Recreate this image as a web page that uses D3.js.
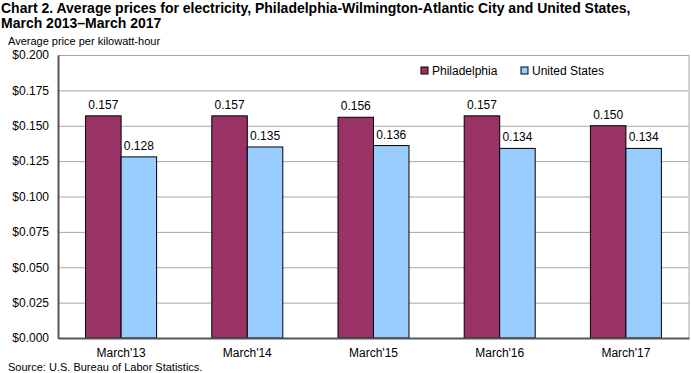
<!DOCTYPE html>
<html>
<head>
<meta charset="utf-8">
<script src="https://cdn.jsdelivr.net/npm/d3@7"></script>
<style>
  body { margin: 0; background: #fff; }
  svg text { font-family: "Liberation Sans", Arial, sans-serif; fill: #000; }
</style>
</head>
<body>
<div id="chart"></div>
<script>
const categories = ["March'13", "March'14", "March'15", "March'16", "March'17"];
const seriesNames = ['Philadelphia', 'United States'];
const philadelphia = [0.157, 0.157, 0.156, 0.157, 0.150];
const unitedStates = [0.128, 0.135, 0.136, 0.134, 0.134];
const yTicks = [0, 0.025, 0.05, 0.075, 0.1, 0.125, 0.15, 0.175, 0.2];
const colors = ['#993366', '#99ccff'];

const width = 691;
const height = 373;
const margin = { top: 55, right: 2, bottom: 35, left: 58 };
const plotW = width - margin.left - margin.right;
const plotH = height - margin.top - margin.bottom;

const svg = d3.select('#chart').append('svg')
  .attr('width', width)
  .attr('height', height);

// title
svg.append('text').attr('x', 1).attr('y', 13)
  .attr('font-size', 14).attr('font-weight', 'bold')
  .text('Chart 2. Average prices for electricity, Philadelphia-Wilmington-Atlantic City and United States,');
svg.append('text').attr('x', 1).attr('y', 28)
  .attr('font-size', 14).attr('font-weight', 'bold')
  .text('March 2013\u2013March 2017');
svg.append('text').attr('x', 8).attr('y', 45)
  .attr('font-size', 11)
  .text('Average price per kilowatt-hour');

const g = svg.append('g')
  .attr('transform', 'translate(' + margin.left + ',' + margin.top + ')');

const x0 = d3.scaleBand().domain(categories).range([0, plotW]);
const x1 = d3.scaleBand().domain(seriesNames).range([0, 71]);
const y = d3.scaleLinear().domain([0, 0.2]).range([plotH, 0]);

// gridlines
g.append('g')
  .call(d3.axisLeft(y).tickValues(yTicks).tickSize(-plotW).tickFormat(''))
  .call(a => a.select('.domain').remove())
  .selectAll('line').attr('stroke', '#a6a6a6');

// right border
g.append('line')
  .attr('x1', plotW).attr('x2', plotW).attr('y1', 0).attr('y2', plotH)
  .attr('stroke', '#a6a6a6');

const data = categories.map((c, i) => ({ cat: c, vals: [philadelphia[i], unitedStates[i]] }));

const groups = g.selectAll('.grp').data(data).enter().append('g')
  .attr('class', 'grp')
  .attr('transform', d => 'translate(' + (x0(d.cat) + x0.bandwidth() / 2 - 35.5) + ',0)');

groups.selectAll('rect').data(d => d.vals.map((v, j) => ({ v: v, s: seriesNames[j], j: j })))
  .enter().append('rect')
  .attr('x', d => x1(d.s))
  .attr('width', x1.bandwidth())
  .attr('y', d => y(d.v))
  .attr('height', d => plotH - y(d.v))
  .attr('fill', d => colors[d.j])
  .attr('stroke', '#000')
  .attr('stroke-width', 1);

groups.selectAll('.lbl').data(d => d.vals.map((v, j) => ({ v: v, s: seriesNames[j] })))
  .enter().append('text')
  .attr('class', 'lbl')
  .attr('x', d => x1(d.s) + x1.bandwidth() / 2)
  .attr('y', d => y(d.v) - 7)
  .attr('text-anchor', 'middle')
  .attr('font-size', 12)
  .text(d => d3.format('.3f')(d.v));

// y axis
const yAxis = g.append('g')
  .call(d3.axisLeft(y).tickValues(yTicks).tickSize(0).tickPadding(9)
    .tickFormat(d => '$' + d3.format('.3f')(d)));
yAxis.select('.domain').attr('stroke', '#555').attr('stroke-width', 2);
yAxis.selectAll('text').attr('font-size', 12)
  .style('font-family', '"Liberation Sans", Arial, sans-serif');

// x axis
const xAxis = g.append('g')
  .attr('transform', 'translate(0,' + plotH + ')')
  .call(d3.axisBottom(x0).tickSize(0).tickPadding(10));
xAxis.select('.domain').attr('stroke', '#555').attr('stroke-width', 2);
xAxis.selectAll('text').attr('font-size', 12)
  .style('font-family', '"Liberation Sans", Arial, sans-serif');

// legend
const legend = svg.append('g').attr('transform', 'translate(421,67)');
seriesNames.forEach((s, i) => {
  const lg = legend.append('g').attr('transform', 'translate(' + (i * 100) + ',0)');
  lg.append('rect').attr('width', 7).attr('height', 7)
    .attr('fill', colors[i]).attr('stroke', '#000');
  lg.append('text').attr('x', 11).attr('y', 8).attr('font-size', 12).text(s);
});

// source
svg.append('text').attr('x', 8).attr('y', 371)
  .attr('font-size', 11)
  .text('Source: U.S. Bureau of Labor Statistics.');
</script>
</body>
</html>
